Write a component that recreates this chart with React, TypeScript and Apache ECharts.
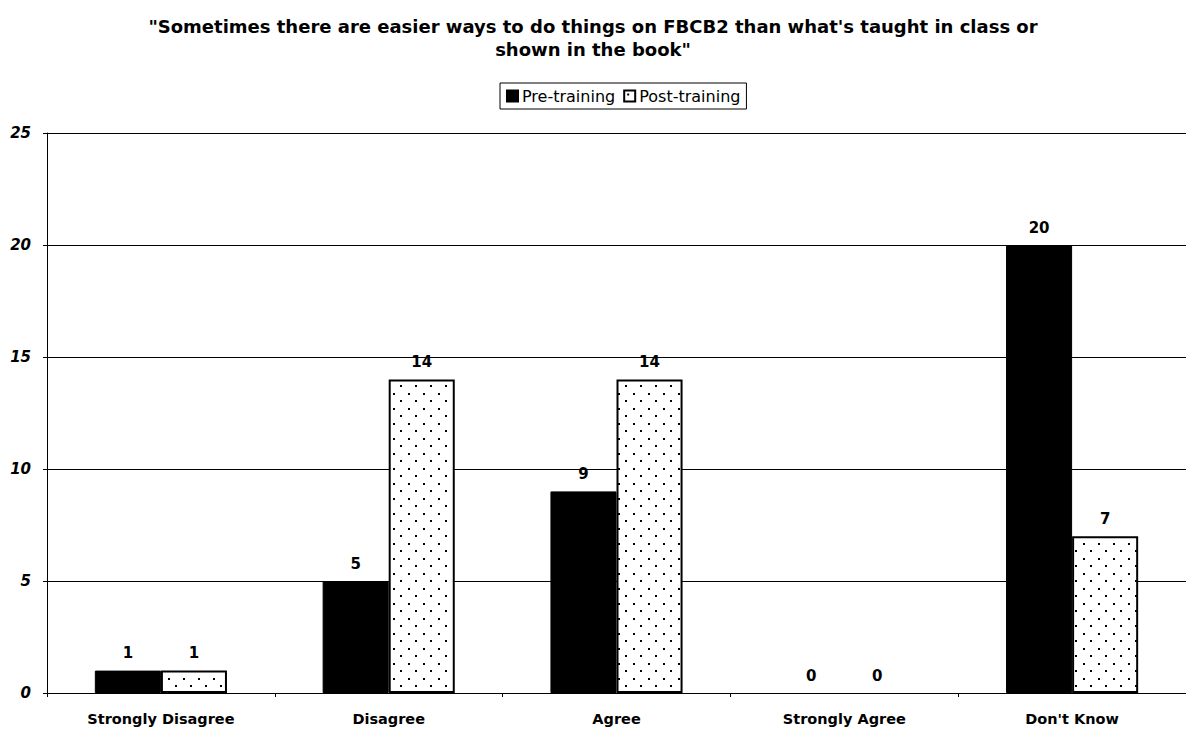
import React, { useEffect, useRef } from "react";
import * as echarts from "echarts";

const categories = ["Strongly Disagree", "Disagree", "Agree", "Strongly Agree", "Don't Know"];
const preTraining = [1, 5, 9, 0, 20];
const postTraining = [1, 14, 14, 0, 7];
const seriesNames = ["Pre-training", "Post-training"];
const titleText = "\"Sometimes there are easier ways to do things on FBCB2 than what's taught in class or\nshown in the book\"";

function makeDots(): HTMLCanvasElement {
  const c = document.createElement("canvas");
  c.width = 15;
  c.height = 15;
  const ctx = c.getContext("2d")!;
  ctx.fillStyle = "#fff";
  ctx.fillRect(0, 0, 15, 15);
  ctx.fillStyle = "#000";
  ctx.fillRect(3, 3, 2, 2);
  ctx.fillRect(10, 10, 2, 2);
  return c;
}

// zero-height bars get no border so nothing is drawn for them
function toItems(values: number[]) {
  return values.map((v) => (v === 0 ? { value: v, itemStyle: { borderWidth: 0 } } : v));
}

export default function App() {
  const ref = useRef<HTMLDivElement>(null);
  useEffect(() => {
    if (!ref.current) return;
    const chart = echarts.init(ref.current, undefined, { renderer: "svg" });
    const pattern = { image: makeDots(), repeat: "repeat" } as any;
    const font = "'DejaVu Sans', 'Liberation Sans', Arial, sans-serif";
    const labelStyle = {
      show: true,
      position: "top",
      distance: 10,
      fontFamily: font,
      fontSize: 15,
      fontWeight: "bold",
      color: "#000",
    };
    chart.setOption({
      animation: false,
      backgroundColor: "#fff",
      textStyle: { fontFamily: font, color: "#000" },
      title: {
        text: titleText,
        left: "center",
        top: 10,
        textStyle: { fontFamily: font, fontSize: 18, fontWeight: "bold", color: "#000", lineHeight: 23 },
      },
      legend: {
        data: seriesNames,
        left: 500,
        top: 83,
        borderColor: "#000",
        borderWidth: 1,
        padding: [5, 6],
        itemWidth: 11,
        itemHeight: 11,
        itemGap: 8,
        icon: "rect",
        textStyle: { fontFamily: font, fontSize: 16, color: "#000", padding: [0, 0, 0, -1] },
      },
      grid: { left: 47, right: -3, top: 133, bottom: 39 },
      xAxis: {
        type: "category",
        data: categories,
        axisLine: { lineStyle: { color: "#000", width: 1 } },
        axisTick: { show: true, length: 4, lineStyle: { color: "#000" } },
        axisLabel: { fontFamily: font, fontSize: 14.5, fontWeight: "bold", color: "#000", margin: 18 },
      },
      yAxis: {
        type: "value",
        min: 0,
        max: 25,
        interval: 5,
        axisLine: { show: true, lineStyle: { color: "#000", width: 1 } },
        axisTick: { show: true, length: 4, lineStyle: { color: "#000" } },
        splitLine: { lineStyle: { color: "#000", width: 1 } },
        axisLabel: { fontFamily: font, fontSize: 15, fontWeight: "bold", fontStyle: "italic", color: "#000", margin: 16 },
      },
      series: [
        {
          name: seriesNames[0],
          type: "bar",
          data: toItems(preTraining),
          barGap: "0%",
          barCategoryGap: "42%",
          itemStyle: { color: "#000", borderColor: "#000", borderWidth: 1 },
          label: labelStyle,
        },
        {
          name: seriesNames[1],
          type: "bar",
          data: toItems(postTraining),
          itemStyle: { color: pattern, borderColor: "#000", borderWidth: 2 },
          label: labelStyle,
        },
      ],
    });
    return () => chart.dispose();
  }, []);
  return <div ref={ref} style={{ position: "fixed", left: 0, top: 0, width: 1186, height: 732 }} />;
}
